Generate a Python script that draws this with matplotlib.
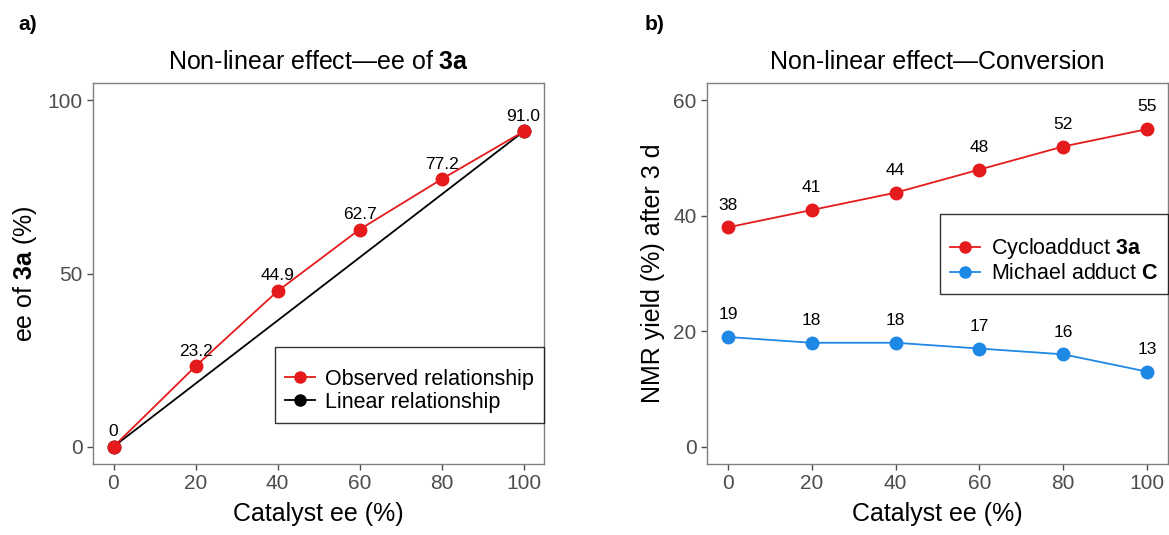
import matplotlib.pyplot as plt
from matplotlib.lines import Line2D

plt.rcParams['font.family'] = ['Liberation Sans', 'DejaVu Sans']
plt.rcParams['mathtext.fontset'] = 'custom'
plt.rcParams['mathtext.rm'] = 'Liberation Sans'
plt.rcParams['mathtext.bf'] = 'Liberation Sans:bold'

catalyst_ee = [0, 20, 40, 60, 80, 100]
observed_ee = [0, 23.2, 44.9, 62.7, 77.2, 91.0]
observed_labels = ['0', '23.2', '44.9', '62.7', '77.2', '91.0']
linear_x = [0, 100]
linear_y = [0, 91.0]

cyclo_yield = [38, 41, 44, 48, 52, 55]
michael_yield = [19, 18, 18, 17, 16, 13]

red = '#E41A1C'
blue = '#1E88E5'
grey = '#7F7F7F'
tick_grey = '#4D4D4D'

fig = plt.figure(figsize=(11.69, 5.35), dpi=100)
ax1 = fig.add_axes([93 / 1169, 71 / 535, 451 / 1169, 381 / 535])
ax2 = fig.add_axes([707 / 1169, 71 / 535, 461 / 1169, 381 / 535])


def style(ax):
    for s in ax.spines.values():
        s.set_color(grey)
        s.set_linewidth(1.0)
    ax.tick_params(colors=tick_grey, labelsize=15, length=4, width=1.0,
                   labelcolor=tick_grey)
    ax.set_xlim(-5, 105)
    ax.set_xticks(catalyst_ee)
    ax.set_xlabel('Catalyst ee (%)', fontsize=18, labelpad=6)


# panel a
ax1.plot(linear_x, linear_y, color='black', lw=1.3, marker='o', ms=9, zorder=2)
ax1.plot(catalyst_ee, observed_ee, color=red, lw=1.3, marker='o', ms=9, zorder=3)
for x, y, t in zip(catalyst_ee, observed_ee, observed_labels):
    ax1.annotate(t, (x, y), xytext=(0, 11), textcoords='offset points',
                 ha='center', va='center', fontsize=12.5)
style(ax1)
ax1.set_ylim(-5, 105)
ax1.set_yticks([0, 50, 100])
ax1.set_ylabel('ee of $\\mathbf{3a}$ (%)', fontsize=18, labelpad=6)
ax1.set_title('Non-linear effect\u2014ee of $\\mathbf{3a}$', fontsize=18, pad=10)
h1 = [Line2D([], [], color=red, marker='o', ms=8, lw=1.3),
      Line2D([], [], color='black', marker='o', ms=8, lw=1.3)]
leg1 = ax1.legend(h1, ['Observed relationship', 'Linear relationship'],
                  loc='upper right', bbox_to_anchor=(1.0, 0.307), fontsize=15.5,
                  title=' ', title_fontsize=8, frameon=True, fancybox=False,
                  edgecolor='black', handlelength=1.4, handletextpad=0.5,
                  borderpad=0.45, labelspacing=0.1, borderaxespad=0)
leg1.get_frame().set_linewidth(1.0)

# panel b
ax2.plot(catalyst_ee, cyclo_yield, color=red, lw=1.3, marker='o', ms=9)
ax2.plot(catalyst_ee, michael_yield, color=blue, lw=1.3, marker='o', ms=9)
for x, y in zip(catalyst_ee, cyclo_yield):
    ax2.annotate(str(y), (x, y), xytext=(0, 16), textcoords='offset points',
                 ha='center', va='center', fontsize=12.5)
for x, y in zip(catalyst_ee, michael_yield):
    ax2.annotate(str(y), (x, y), xytext=(0, 16), textcoords='offset points',
                 ha='center', va='center', fontsize=12.5)
style(ax2)
ax2.set_ylim(-3, 63)
ax2.set_yticks([0, 20, 40, 60])
ax2.set_ylabel('NMR yield (%) after 3 d', fontsize=18, labelpad=6)
ax2.set_title('Non-linear effect\u2014Conversion', fontsize=18, pad=10)
h2 = [Line2D([], [], color=red, marker='o', ms=8, lw=1.3),
      Line2D([], [], color=blue, marker='o', ms=8, lw=1.3)]
leg2 = ax2.legend(h2, ['Cycloadduct $\\mathbf{3a}$', 'Michael adduct $\\mathbf{C}$'],
                  loc='upper right', bbox_to_anchor=(1.0, 0.655), fontsize=15.5,
                  title=' ', title_fontsize=8, frameon=True, fancybox=False,
                  edgecolor='black', handlelength=1.4, handletextpad=0.5,
                  borderpad=0.45, labelspacing=0.1, borderaxespad=0)
leg2.get_frame().set_linewidth(1.0)

fig.text(28 / 1169, 1 - 24 / 535, 'a)', fontsize=15, fontweight='bold',
         ha='center', va='center')
fig.text(655 / 1169, 1 - 24 / 535, 'b)', fontsize=15, fontweight='bold',
         ha='center', va='center')

fig.savefig('out.png', dpi=100)
